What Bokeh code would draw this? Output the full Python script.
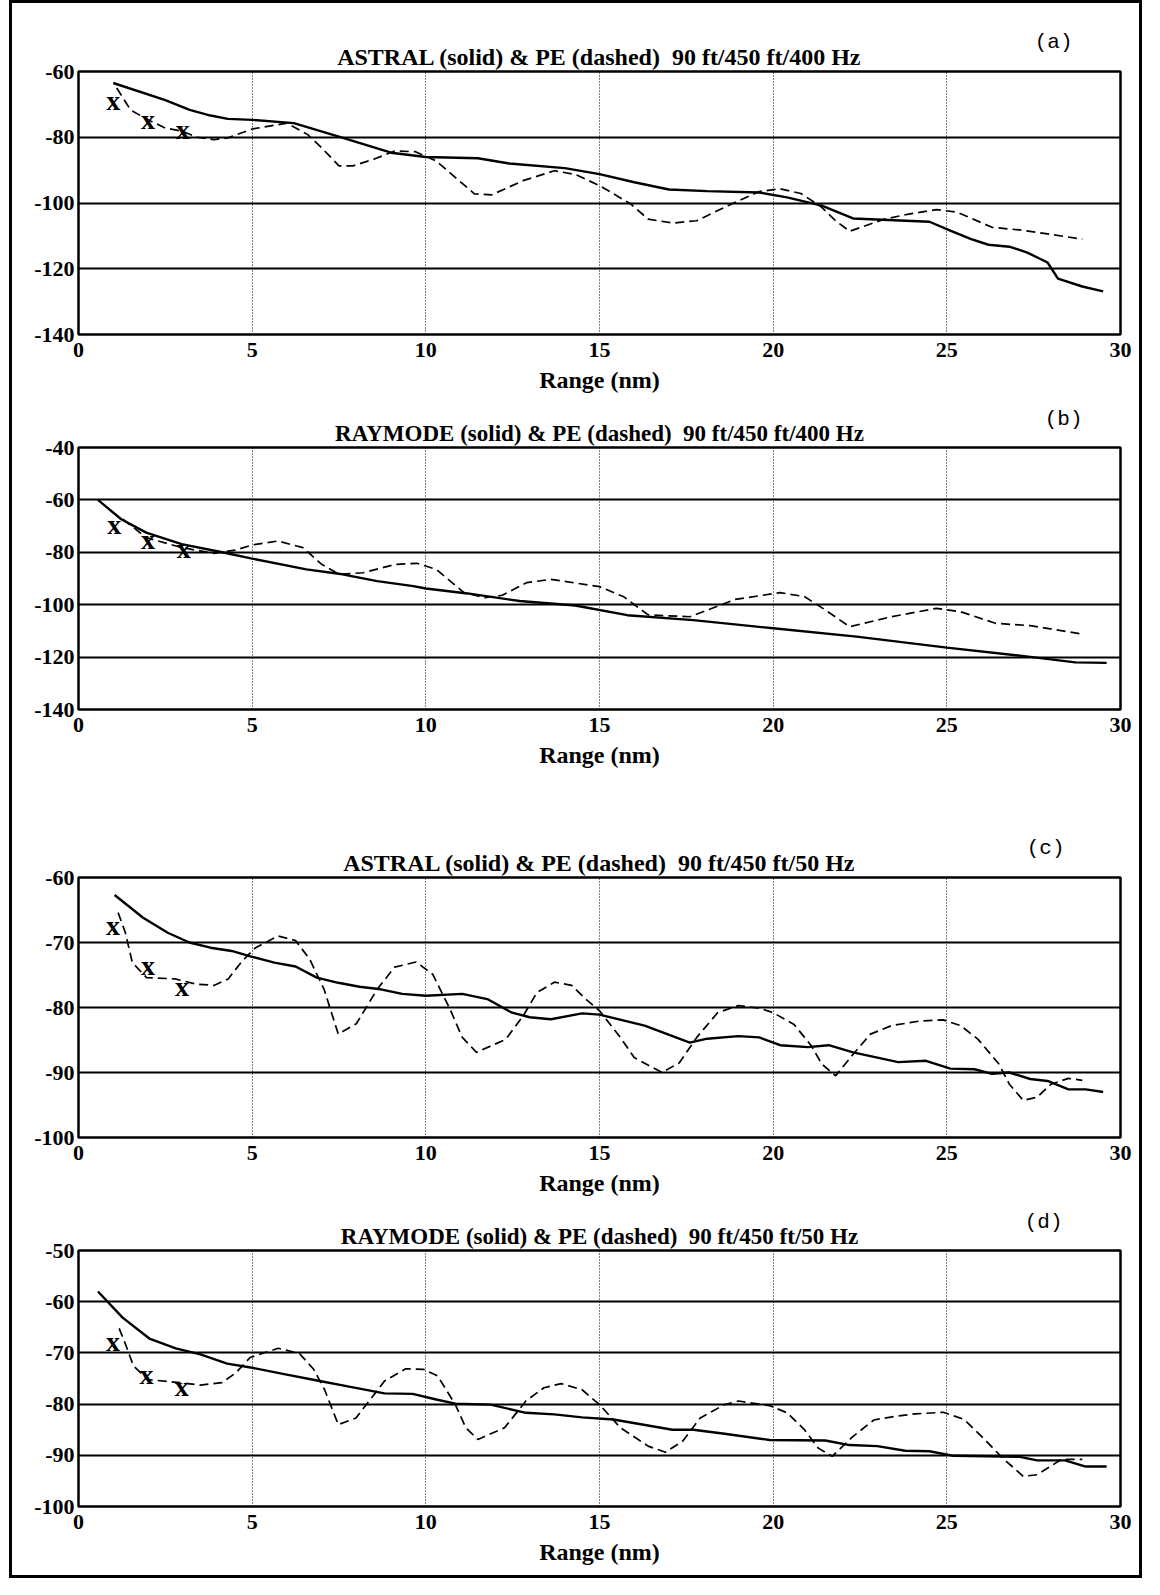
from bokeh.plotting import figure
from bokeh.models import Range1d, Title, FixedTicker
from bokeh.layouts import column
from bokeh.embed import file_html
from bokeh.resources import INLINE
from bokeh.core.properties import value

# ---------------- data ----------------
x_ticks = [0, 5, 10, 15, 20, 25, 30]

# (a) ASTRAL vs PE, 400 Hz
a_sol_x = [1.0, 2.5, 3.2, 3.8, 4.3, 5.0, 6.2, 7.4, 9.0, 10.0, 11.5, 12.4, 14.0, 15.0, 16.0, 17.0, 18.1, 19.6, 20.4,
           21.4, 22.3, 24.5, 25.1, 25.7, 26.2, 26.8, 27.3, 27.9, 28.2, 28.9, 29.5]
a_sol_y = [-63.5, -68.7, -71.7, -73.4, -74.4, -74.7, -75.7, -79.5, -84.7, -86.0, -86.4, -88.0, -89.4, -91.2, -93.7,
           -95.9, -96.4, -96.8, -98.3, -100.8, -104.7, -105.7, -108.4, -111.0, -112.7, -113.3, -115.0, -118.1,
           -123.0, -125.4, -126.9]
a_dash_x = [1.1, 1.5, 2.0, 2.5, 3.0, 3.4, 3.9, 4.3, 5.0, 6.0, 6.6, 7.0, 7.5, 7.9, 8.5, 9.1, 9.7, 10.3, 10.9, 11.4,
            11.9, 12.8, 13.7, 14.3, 15.0, 15.9, 16.4, 17.1, 17.8, 18.7, 19.6, 20.2, 20.8, 21.4, 21.8, 22.2, 23.2,
            23.9, 24.7, 25.3, 26.3, 27.1, 27.9, 28.9]
a_dash_y = [-65.0, -71.7, -74.7, -77.2, -78.2, -80.0, -80.7, -80.2, -77.5, -75.7, -79.2, -83.2, -88.7, -88.7, -86.7,
            -84.2, -84.4, -87.2, -92.7, -97.2, -97.5, -93.2, -90.2, -91.3, -94.7, -100.3, -104.9, -106.1, -105.4,
            -100.8, -96.5, -95.7, -97.1, -101.3, -105.4, -108.6, -104.9, -103.4, -102.0, -102.8, -107.4, -108.2,
            -109.4, -111.0]
a_mark_x = [1.0, 2.0, 3.0]
a_mark_y = [-68.7, -74.7, -77.7]

# (b) RAYMODE vs PE, 400 Hz
b_sol_x = [0.56, 1.23, 1.95, 2.97, 4.1, 5.0, 6.56, 7.6, 8.6, 9.64, 10.0, 11.2, 12.7, 14.3, 15.8, 17.7, 20.0, 22.4,
           25.0, 27.4, 28.7, 29.6]
b_sol_y = [-60.0, -67.4, -72.5, -76.9, -79.9, -82.4, -86.5, -88.4, -91.0, -92.9, -93.8, -95.7, -98.6, -100.3,
           -104.0, -105.9, -109.0, -112.2, -116.4, -119.9, -122.0, -122.2]
b_dash_x = [1.28, 1.95, 2.97, 3.9, 4.5, 5.0, 5.74, 6.46, 7.0, 7.5, 8.2, 9.13, 9.74, 10.3, 11.1, 11.7, 12.2, 12.9,
            13.6, 14.3, 15.0, 15.7, 16.4, 17.6, 18.9, 20.2, 20.9, 21.5, 22.2, 23.4, 24.7, 25.4, 26.4, 27.4, 28.9]
b_dash_y = [-67.4, -74.4, -78.2, -80.4, -79.2, -77.2, -75.7, -78.2, -84.6, -88.4, -87.8, -84.6, -84.2, -86.5,
            -95.4, -97.3, -96.4, -91.6, -90.3, -91.7, -93.1, -97.0, -103.9, -104.6, -98.0, -95.4, -96.9, -102.0,
            -108.4, -104.6, -101.4, -102.7, -107.1, -108.0, -111.2]
b_mark_x = [1.03, 2.0, 3.03]
b_mark_y = [-69.3, -75.3, -78.6]

# (c) ASTRAL vs PE, 50 Hz
c_sol_x = [1.04, 1.86, 2.57, 3.19, 3.8, 4.41, 5.0, 5.64, 6.25, 6.86, 7.48, 8.09, 8.7, 9.32, 10.0, 11.05, 11.77,
           12.48, 12.99, 13.6, 14.5, 15.0, 16.3, 17.6, 18.1, 19.0, 19.6, 20.2, 21.0, 21.6, 22.3, 23.6, 24.4, 25.1,
           25.8, 26.3, 26.8, 27.4, 27.9, 28.5, 29.0, 29.5]
c_sol_y = [-62.7, -66.2, -68.5, -70.0, -70.8, -71.3, -72.2, -73.1, -73.7, -75.4, -76.2, -76.8, -77.2, -77.9,
           -78.2, -77.9, -78.7, -80.8, -81.5, -81.8, -80.9, -81.1, -82.8, -85.4, -84.8, -84.4, -84.6, -85.8, -86.1,
           -85.8, -86.9, -88.4, -88.2, -89.4, -89.5, -90.2, -90.0, -91.0, -91.3, -92.6, -92.6, -93.0]
c_dash_x = [1.14, 1.35, 1.55, 1.96, 2.78, 3.39, 3.9, 4.31, 4.72, 5.1, 5.74, 6.25, 6.66, 7.07, 7.48, 8.0, 8.6, 9.1,
            9.72, 10.2, 10.7, 11.05, 11.46, 12.3, 12.8, 13.2, 13.7, 14.2, 14.6, 15.0, 15.6, 16.0, 16.8, 17.3, 17.8,
            18.4, 19.0, 19.6, 20.0, 20.6, 21.1, 21.4, 21.8, 22.3, 22.8, 23.4, 24.2, 24.9, 25.4, 25.9, 26.5, 26.8,
            27.2, 27.6, 28.0, 28.5, 28.9]
c_dash_y = [-65.4, -68.5, -73.1, -75.4, -75.6, -76.4, -76.6, -75.6, -72.8, -70.8, -69.0, -69.7, -72.6, -77.2,
            -84.1, -82.5, -77.2, -73.8, -73.0, -74.9, -80.3, -84.6, -86.9, -84.9, -81.3, -77.7, -76.1, -76.6,
            -78.7, -80.5, -84.6, -87.7, -90.0, -88.5, -84.6, -80.8, -79.7, -80.1, -80.8, -82.6, -85.9, -88.7,
            -90.5, -87.2, -84.1, -82.8, -82.1, -81.9, -82.8, -84.9, -88.7, -91.8, -94.3, -93.8, -91.8, -90.9, -91.2]
c_mark_x = [0.99, 2.0, 2.98]
c_mark_y = [-67.4, -73.6, -76.7]

# (d) RAYMODE vs PE, 50 Hz
d_sol_x = [0.56, 1.27, 2.04, 2.8, 3.51, 4.28, 5.0, 5.96, 6.87, 7.79, 8.81, 9.62, 10.3, 10.85, 11.86, 12.88, 13.7,
           14.5, 15.4, 17.1, 17.7, 18.6, 19.9, 21.5, 22.2, 23.0, 23.8, 24.5, 25.2, 27.1, 27.6, 28.4, 29.0, 29.6]
d_sol_y = [-58.0, -63.1, -67.2, -69.1, -70.3, -72.1, -72.9, -74.2, -75.4, -76.6, -77.9, -78.0, -79.1, -79.9,
           -80.1, -81.7, -82.0, -82.6, -83.0, -85.0, -85.0, -85.8, -87.0, -87.1, -88.0, -88.2, -89.1, -89.2,
           -90.1, -90.3, -91.0, -91.0, -92.2, -92.2]
d_dash_x = [1.17, 1.37, 1.58, 1.99, 2.9, 3.51, 4.13, 4.53, 4.94, 5.75, 6.36, 6.77, 7.08, 7.48, 7.99, 8.4, 8.81,
            9.42, 9.93, 10.34, 10.85, 11.15, 11.5, 12.27, 12.88, 13.4, 13.9, 14.5, 15.0, 15.6, 16.4, 16.9, 17.4,
            17.9, 18.6, 19.0, 19.9, 20.4, 20.9, 21.3, 21.7, 22.3, 22.9, 23.5, 24.1, 24.9, 25.5, 26.0, 26.6, 27.2,
            27.6, 28.3, 28.9]
d_dash_y = [-65.2, -68.6, -72.5, -75.2, -75.8, -76.3, -75.8, -73.9, -70.9, -69.1, -70.1, -73.2, -77.1, -84.0,
            -82.7, -79.1, -75.5, -73.1, -73.2, -74.5, -80.1, -84.6, -86.9, -84.6, -79.4, -76.8, -76.0, -77.2,
            -80.1, -84.6, -88.2, -89.4, -87.2, -82.7, -80.1, -79.4, -80.3, -81.7, -85.0, -88.6, -90.2, -86.3,
            -83.1, -82.4, -81.9, -81.6, -83.0, -86.3, -90.5, -94.1, -93.8, -90.8, -90.8]
d_mark_x = [0.99, 1.96, 2.97]
d_mark_y = [-67.8, -74.2, -76.6]

titles = ["ASTRAL (solid) & PE (dashed)\u00a0 90 ft/450 ft/400 Hz",
          "RAYMODE (solid) & PE (dashed)\u00a0 90 ft/450 ft/400 Hz",
          "ASTRAL (solid) & PE (dashed)\u00a0 90 ft/450 ft/50 Hz",
          "RAYMODE (solid) & PE (dashed)\u00a0 90 ft/450 ft/50 Hz"]
tags = ["(a)", "(b)", "(c)", "(d)"]
y_lims = [(-140, -60), (-140, -40), (-100, -60), (-100, -50)]
y_ticks = [[-140, -120, -100, -80, -60],
           [-140, -120, -100, -80, -60, -40],
           [-100, -90, -80, -70, -60],
           [-100, -90, -80, -70, -60, -50]]
x_label = "Range (nm)"

SERIF = value("Liberation Serif")
FIG_W = 1127
FRAME_W = 1042
B_LEFT = 66


def panel(title, tag, ylim, yt, sx, sy, dx, dy, mx, my,
          height, btop, bbot, tag_off, title_off, title_size):
    p = figure(width=FIG_W, height=height, x_range=Range1d(0, 30), y_range=Range1d(*ylim),
               output_backend="svg", toolbar_location=None,
               min_border_top=btop, min_border_bottom=bbot, min_border_left=B_LEFT,
               min_border_right=FIG_W - B_LEFT - FRAME_W)
    p.background_fill_color = "white"
    p.border_fill_color = "white"
    p.outline_line_color = "black"
    p.outline_line_width = 2.5

    p.xaxis.ticker = FixedTicker(ticks=x_ticks)
    p.yaxis.ticker = FixedTicker(ticks=yt)
    p.xaxis.major_label_overrides = {t: str(t) for t in x_ticks}
    p.yaxis.major_label_overrides = {t: str(t) for t in yt}
    for ax in (p.xaxis[0], p.yaxis[0]):
        ax.axis_line_color = None
        ax.major_tick_line_color = None
        ax.minor_tick_line_color = None
        ax.major_tick_out = 0
        ax.major_tick_in = 0
        ax.minor_tick_out = 0
        ax.major_label_text_font = "Liberation Serif"
        ax.major_label_text_font_style = "bold"
        ax.major_label_text_font_size = "22px"
        ax.major_label_text_color = "black"
    p.yaxis.major_label_standoff = 4
    p.xaxis.major_label_standoff = 8
    p.xaxis.axis_label = x_label
    p.xaxis.axis_label_text_font = "Liberation Serif"
    p.xaxis.axis_label_text_font_style = "bold"
    p.xaxis.axis_label_text_font_size = "24px"
    p.xaxis.axis_label_text_color = "black"
    p.xaxis.axis_label_standoff = 7

    p.ygrid.grid_line_color = "black"
    p.ygrid.grid_line_width = 1.8
    p.xgrid.grid_line_color = "black"
    p.xgrid.grid_line_width = 1.1
    p.xgrid.grid_line_dash = "1 2"

    p.line(sx, sy, line_color="black", line_width=2.4)
    p.line(dx, dy, line_color="black", line_width=1.7, line_dash="9 5")
    p.text(x=mx, y=my, text=["x"] * len(mx), text_font=SERIF, text_font_style="bold",
           text_font_size="28px", text_align="center", text_baseline="middle", text_color="black")

    # outer title: the panel tag, e.g. "(a)"
    p.title.text = tag
    p.title.align = "right"
    p.title.offset = tag_off
    p.title.standoff = -27
    p.title.text_font = "Liberation Mono"
    p.title.text_font_style = "normal"
    p.title.text_font_size = "21px"
    p.title.text_color = "black"
    # inner title, next to the frame
    p.add_layout(Title(text=title, align="center", offset=title_off, standoff=3,
                       text_line_height=0.75,
                       text_font="Liberation Serif", text_font_style="bold",
                       text_font_size=title_size, text_color="black"), "above")
    return p


pa = panel(titles[0], tags[0], y_lims[0], y_ticks[0], a_sol_x, a_sol_y, a_dash_x, a_dash_y, a_mark_x, a_mark_y,
           height=399, btop=68, bbot=68, tag_off=48, title_off=0, title_size="24px")
pb = panel(titles[1], tags[1], y_lims[1], y_ticks[1], b_sol_x, b_sol_y, b_dash_x, b_dash_y, b_mark_x, b_mark_y,
           height=390, btop=45, bbot=83, tag_off=38, title_off=8, title_size="23px")
pc = panel(titles[2], tags[2], y_lims[2], y_ticks[2], c_sol_x, c_sol_y, c_dash_x, c_dash_y, c_mark_x, c_mark_y,
           height=415, btop=85, bbot=70, tag_off=56, title_off=4, title_size="24px")
pd_ = panel(titles[3], tags[3], y_lims[3], y_ticks[3], d_sol_x, d_sol_y, d_dash_x, d_dash_y, d_mark_x, d_mark_y,
            height=368, btop=43, bbot=69, tag_off=58, title_off=10, title_size="23px")

layout = column(pa, pb, pc, pd_, spacing=0,
                styles={"border": "3px solid black", "background-color": "white", "margin-left": "9px"})

open("out.html", "w").write(file_html(layout, INLINE))
